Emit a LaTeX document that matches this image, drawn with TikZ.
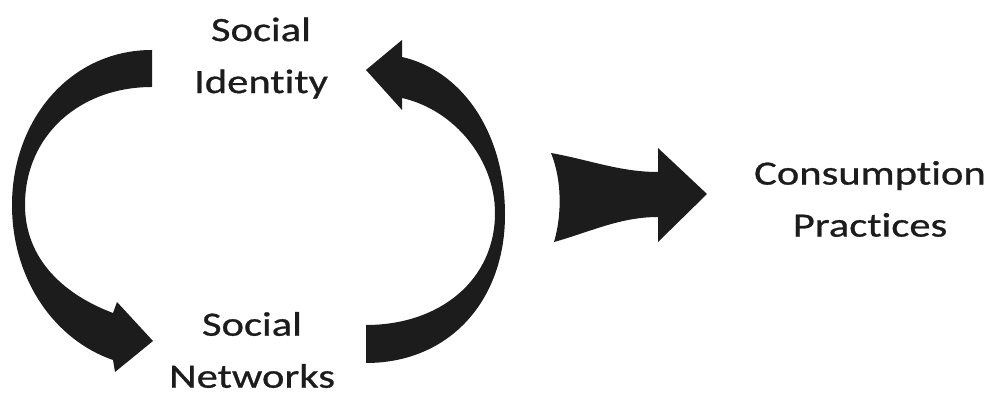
\documentclass[tikz,border=0pt]{standalone}
\usepackage{fontspec}
\newfontfamily\lblfont[FakeStretch=1.25, FakeBold=0.8, Ligatures=NoCommon, RawFeature=-liga]{Carlito}
\usepackage{xcolor}
\usepackage{tikz}
\usetikzlibrary{positioning}
\definecolor{ink}{RGB}{28,28,28}
\tikzset{
  lbl/.style={align=center, text=ink, inner sep=0pt,
    font=\lblfont\fontsize{19.4pt}{29.6pt}\selectfont},
  blockarr/.style={fill=ink, draw=none},
}

\begin{document}
\begin{tikzpicture}[x=0.02cm, y=-0.02cm]
    \useasboundingbox (0,0) rectangle (995,394);

    \node[lbl] (identity)    at (261,58)  {Social\\Identity};
    \node[lbl] (networks)    at (252,350) {Social\\Networks};
    \node[lbl] (consumption) at (870,199) {Consumption\\Practices};

    % identity -> networks
    \fill[blockarr] (152,50) .. controls (70,50) and (12,120) .. (12,205)
      .. controls (12,280) and (55,340) .. (113,360)
      -- (115,372) -- (153,341) -- (117,302) -- (113,313)
      .. controls (65,295) and (25,260) .. (25,205)
      .. controls (25,135) and (80,87) .. (152,87) -- cycle;

    % networks -> identity
    \fill[blockarr] (366,363) .. controls (450,363) and (505,300) .. (505,215)
      .. controls (505,130) and (460,70) .. (402,57)
      -- (402,40) -- (366,70) -- (402,110) -- (402,98)
      .. controls (455,110) and (495,160) .. (495,213)
      .. controls (495,280) and (440,325) .. (366,325) -- cycle;

    % cycle -> consumption
    \fill[blockarr] (551,153) .. controls (590,160) and (620,172) .. (658,172)
      -- (658,148) -- (707,194) -- (658,242) -- (658,217)
      .. controls (620,217) and (590,232) .. (554,242)
      .. controls (562,215) and (562,180) .. (551,153) -- cycle;
  \end{tikzpicture}
\end{document}
